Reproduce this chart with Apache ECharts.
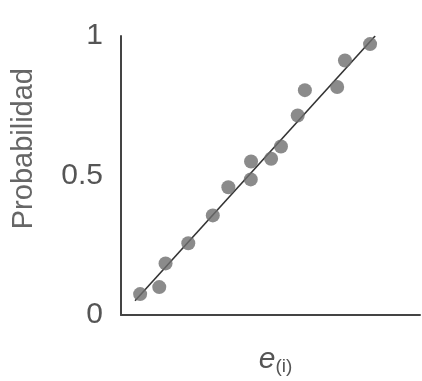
<!DOCTYPE html>
<html>
<head>
<meta charset="utf-8">
<script src="https://cdn.jsdelivr.net/npm/echarts@6/dist/echarts.min.js"></script>
<style>html,body{margin:0;padding:0;background:#fff}#c{width:422px;height:381px}</style>
</head>
<body>
<div id="c"></div>
<script>
// Residuals e(i) (arbitrary units) and their cumulative probability
const residuals = [6.4, 12.8, 14.9, 22.5, 30.7, 35.9, 43.4, 43.5, 50.2, 53.5, 59.1, 61.5, 72.3, 74.9, 83.3];
const probability = [0.075, 0.10, 0.185, 0.257, 0.357, 0.458, 0.486, 0.55, 0.56, 0.604, 0.715, 0.806, 0.817, 0.912, 0.971];
// Reference line endpoints
const lineX = [4.7, 85.0];
const lineY = [0.051, 1.0];
const yTicks = [0, 0.5, 1];
const yTitle = 'Probabilidad';

const chart = echarts.init(document.getElementById('c'), null, {renderer: 'canvas'});
const pts = residuals.map((x, i) => [x, probability[i]]);
const ln = lineX.map((x, i) => [x, lineY[i]]);
const font = '"Liberation Sans", Arial, Helvetica, sans-serif';
chart.setOption({
  animation: false,
  backgroundColor: '#fff',
  grid: {left: 121, right: 2, top: 36, bottom: 65, containLabel: false},
  xAxis: {
    type: 'value', min: 0, max: 100,
    axisLine: {show: true, onZero: false, lineStyle: {color: '#444', width: 2}},
    axisTick: {show: false}, axisLabel: {show: false}, splitLine: {show: false},
    name: '{e|e}{s|(i)}', nameLocation: 'middle', nameGap: 28,
    nameTextStyle: {
      rich: {
        e: {fontFamily: font, fontStyle: 'italic', fontSize: 30, color: '#555', padding: [0, 0, 0, 10]},
        s: {fontFamily: font, fontSize: 19, color: '#555', padding: [14, 0, 0, 0]}
      }
    }
  },
  yAxis: {
    type: 'value', min: 0, max: 1, interval: 0.5,
    axisLine: {show: true, lineStyle: {color: '#444', width: 2}},
    axisTick: {show: false}, splitLine: {show: false},
    axisLabel: {
      fontFamily: font, fontSize: 30, color: '#555', margin: 18,
      formatter: v => yTicks.includes(v) ? String(v) : ''
    }
  },
  graphic: [{
    type: 'text', left: 9, top: 68, rotation: Math.PI / 2,
    style: {text: yTitle, font: '29px ' + font, fill: '#666'}
  }],
  series: [
    {type: 'line', data: ln, symbol: 'none', lineStyle: {color: '#333', width: 1.6}, z: 2},
    {type: 'scatter', data: pts, symbolSize: 14, itemStyle: {color: '#6e6e6e'}, z: 3}
  ]
});
</script>
</body>
</html>
